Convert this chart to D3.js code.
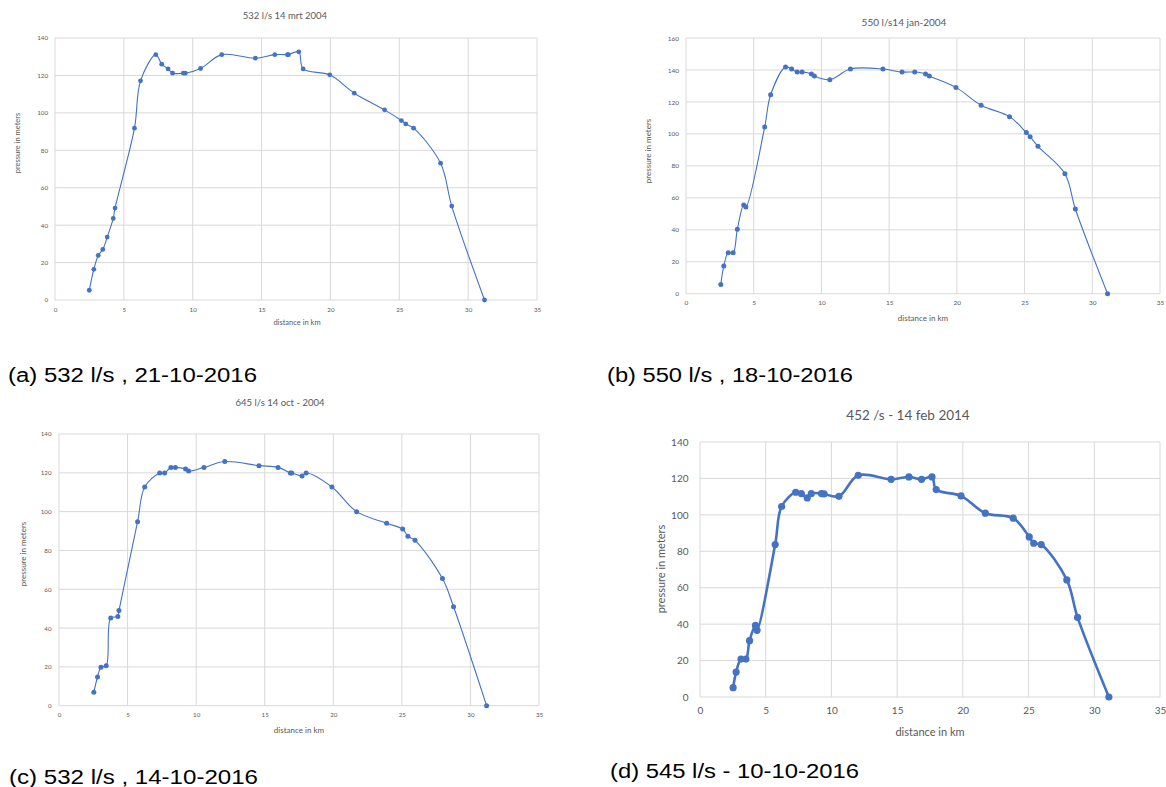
<!DOCTYPE html>
<html><head><meta charset="utf-8">
<script src="https://cdn.jsdelivr.net/npm/d3@7"></script>
<style>body{margin:0;background:#fff} svg{display:block}</style>
</head><body><svg id="c" width="1166" height="787"></svg>
<script>
// ---- data ----
const xTicks = [0, 5, 10, 15, 20, 25, 30, 35];
const yTicks140 = [0, 20, 40, 60, 80, 100, 120, 140];
const yTicks160 = [0, 20, 40, 60, 80, 100, 120, 140, 160];

const titles = ["532 l/s 14 mrt 2004", "550 l/s14 jan-2004", "645 l/s 14 oct - 2004", "452 /s - 14 feb 2014"];
const captions = ["(a) 532 l/s , 21-10-2016", "(b) 550 l/s , 18-10-2016", "(c) 532 l/s , 14-10-2016", "(d) 545 l/s - 10-10-2016"];
const xAxisTitle = "distance in km";
const yAxisTitle = "pressure in meters";

const aDist = [2.49, 2.82, 3.14, 3.47, 3.79, 4.23, 4.36, 5.77, 6.21, 7.32, 7.75, 8.21, 8.54, 9.32, 9.46, 10.57, 12.11, 14.55, 15.96, 16.88, 16.95, 17.70, 18.02, 19.95, 21.73, 23.93, 25.15, 25.47, 26.04, 28.0, 28.81, 31.19];
const aPressure = [5.2, 16.4, 23.8, 27.0, 33.6, 43.6, 49.1, 91.8, 117.1, 131.1, 126.0, 123.5, 121.2, 121.2, 121.2, 123.7, 131.1, 129.2, 131.1, 131.1, 131.1, 132.6, 123.5, 120.3, 110.5, 101.6, 95.9, 94.1, 91.8, 73.1, 50.2, 0];

const bDist = [2.57, 2.79, 3.12, 3.48, 3.79, 4.26, 4.42, 5.81, 6.25, 7.35, 7.80, 8.21, 8.57, 9.26, 9.48, 10.62, 12.14, 14.54, 15.95, 16.89, 17.69, 17.97, 19.93, 21.79, 23.89, 25.13, 25.41, 25.99, 27.98, 28.75, 31.13];
const bPressure = [5.8, 17.3, 25.7, 25.7, 40.3, 55.5, 54.2, 104.3, 124.5, 141.8, 140.6, 138.7, 138.7, 137.5, 136.2, 133.9, 140.6, 140.6, 138.7, 138.7, 137.5, 136.2, 129.1, 117.9, 110.8, 100.8, 98.2, 92.2, 75.1, 53.0, 0];

const cDist = [2.54, 2.81, 3.06, 3.44, 3.77, 4.29, 4.37, 5.73, 6.25, 7.34, 7.70, 8.16, 8.49, 9.23, 9.45, 10.57, 12.09, 14.58, 15.97, 16.87, 16.97, 17.72, 18.02, 19.90, 21.70, 23.89, 25.06, 25.44, 25.96, 27.96, 28.77, 31.18];
const cPressure = [6.9, 14.8, 19.8, 20.6, 45.2, 46.0, 49.0, 94.8, 112.7, 119.9, 119.9, 122.8, 122.8, 122.0, 120.9, 122.8, 125.8, 123.7, 122.8, 119.9, 119.9, 118.4, 119.9, 112.7, 100.0, 94.0, 91.0, 87.3, 85.2, 65.5, 51.0, 0];

const dDist = [2.52, 2.75, 3.12, 3.49, 3.77, 4.22, 4.34, 5.72, 6.21, 7.28, 7.71, 8.16, 8.47, 9.24, 9.44, 10.57, 12.04, 14.54, 15.90, 16.86, 17.65, 17.97, 19.86, 21.71, 23.83, 25.05, 25.39, 25.96, 27.91, 28.73, 31.11];
const dPressure = [5.1, 13.7, 20.8, 20.8, 30.9, 39.3, 36.6, 83.7, 104.6, 112.4, 111.7, 109.3, 111.7, 111.7, 111.5, 110.2, 121.7, 119.5, 120.8, 119.5, 120.8, 113.9, 110.4, 100.9, 98.2, 87.9, 84.4, 83.7, 64.3, 43.7, 0];

// ---- layout ----
const panels = [
  {dist: aDist, pres: aPressure, yTicks: yTicks140, x0: 55, x1: 537, yT: 38, yB: 300,
   tX: 285, tY: 15, tS: 9.5, tickS: 6.2, yLabR: 48, xLabY: 311, axS: 7.5, xtX: 297, xtY: 322.5, ytX: 17, ytY: 143,
   r: 2.4, lw: 1.1, capX: 8, capY: 382, capW: 249},
  {dist: bDist, pres: bPressure, yTicks: yTicks160, x0: 686, x1: 1160, yT: 38, yB: 293.7,
   tX: 904, tY: 21.5, tS: 10, tickS: 6.5, yLabR: 679, xLabY: 303.7, axS: 8, xtX: 923, xtY: 317.7, ytX: 648, ytY: 151,
   r: 2.5, lw: 1.1, capX: 607, capY: 382, capW: 246},
  {dist: cDist, pres: cPressure, yTicks: yTicks140, x0: 59, x1: 539, yT: 434, yB: 705.7,
   tX: 280, tY: 402.7, tS: 9.5, tickS: 6.2, yLabR: 51.5, xLabY: 716, axS: 8, xtX: 299, xtY: 730, ytX: 23, ytY: 554,
   r: 2.5, lw: 1.1, capX: 9, capY: 784, capW: 249},
  {dist: dDist, pres: dPressure, yTicks: yTicks140, x0: 700, x1: 1160, yT: 442, yB: 697,
   tX: 908, tY: 415, tS: 13.5, tickS: 10, yLabR: 688.5, xLabY: 712, axS: 11, xtX: 930, xtY: 731.7, ytX: 660.5, ytY: 569,
   r: 3.6, lw: 2.6, capX: 610, capY: 778, capW: 249}
];

const svg = d3.select("#c");
const blue = "#4472C4";
const gridC = "#d9d9d9";
const textC = "#595959";
const chartFont = "Lato, 'Open Sans', sans-serif";

panels.forEach((p, i) => {
  const x = d3.scaleLinear().domain([0, 35]).range([p.x0, p.x1]);
  const yMax = d3.max(p.yTicks);
  const y = d3.scaleLinear().domain([0, yMax]).range([p.yB, p.yT]);
  const g = svg.append("g");

  // gridlines
  g.append("g").selectAll("line.h").data(p.yTicks).join("line")
    .attr("x1", p.x0).attr("x2", p.x1).attr("y1", d => y(d)).attr("y2", d => y(d))
    .attr("stroke", gridC).attr("stroke-width", 1);
  g.append("g").selectAll("line.v").data(xTicks).join("line")
    .attr("x1", d => x(d)).attr("x2", d => x(d)).attr("y1", p.yT).attr("y2", p.yB)
    .attr("stroke", gridC).attr("stroke-width", 1);

  // axes (labels only, via d3 axes)
  const ax = g.append("g").attr("transform", `translate(0,${p.xLabY - p.tickS * 0.5})`)
    .call(d3.axisBottom(x).tickValues(xTicks).tickSize(0).tickPadding(0).tickFormat(d3.format("d")));
  ax.select(".domain").remove();
  ax.selectAll("text").attr("fill", textC).attr("font-size", p.tickS).attr("font-family", chartFont)
    .attr("dy", "0.71em");

  const ay = g.append("g").attr("transform", `translate(${p.yLabR},0)`)
    .call(d3.axisLeft(y).tickValues(p.yTicks).tickSize(0).tickPadding(0).tickFormat(d3.format("d")));
  ay.select(".domain").remove();
  ay.selectAll("text").attr("fill", textC).attr("font-size", p.tickS).attr("font-family", chartFont);

  // titles
  g.append("text").attr("x", p.tX).attr("y", p.tY).attr("text-anchor", "middle")
    .attr("dominant-baseline", "central").attr("fill", textC).attr("font-size", p.tS)
    .attr("font-family", chartFont).text(titles[i]);
  g.append("text").attr("x", p.xtX).attr("y", p.xtY).attr("text-anchor", "middle")
    .attr("dominant-baseline", "central").attr("fill", textC).attr("font-size", p.axS)
    .attr("font-family", chartFont).text(xAxisTitle);
  g.append("text").attr("transform", `translate(${p.ytX},${p.ytY}) rotate(-90)`).attr("text-anchor", "middle")
    .attr("dominant-baseline", "central").attr("fill", textC).attr("font-size", p.axS)
    .attr("font-family", chartFont).text(yAxisTitle);

  // line
  const pts = p.dist.map((d, k) => [d, p.pres[k]]);
  const line = d3.line().x(d => x(d[0])).y(d => y(d[1])).curve(d3.curveCatmullRom.alpha(0.5));
  g.append("path").attr("d", line(pts)).attr("fill", "none").attr("stroke", blue)
    .attr("stroke-width", p.lw).attr("stroke-linejoin", "round");
  g.append("g").selectAll("circle").data(pts).join("circle")
    .attr("cx", d => x(d[0])).attr("cy", d => y(d[1])).attr("r", p.r).attr("fill", blue);

  // caption
  svg.append("text").attr("x", p.capX).attr("y", p.capY).attr("fill", "#000")
    .attr("font-size", 20).attr("font-family", "'Liberation Sans', Arial, sans-serif")
    .attr("textLength", p.capW).attr("lengthAdjust", "spacingAndGlyphs").text(captions[i]);
});
</script></body></html>
